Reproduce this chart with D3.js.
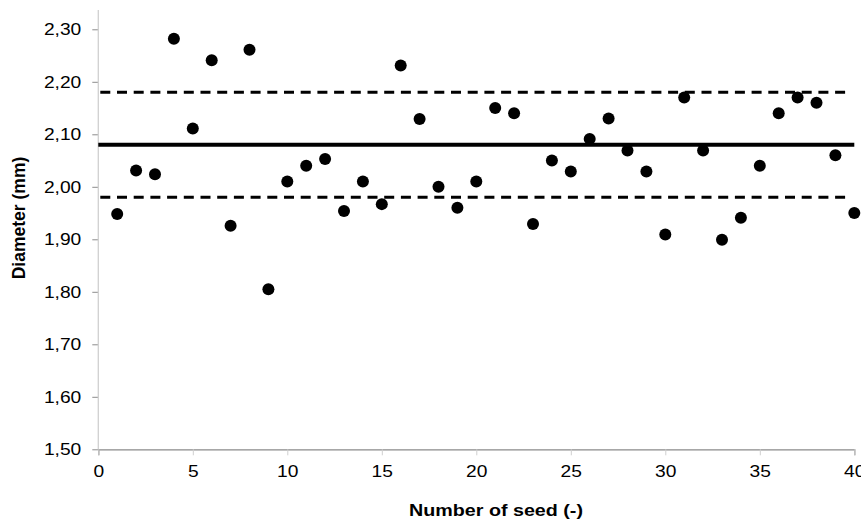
<!DOCTYPE html>
<html>
<head>
<meta charset="utf-8">
<script src="https://cdn.jsdelivr.net/npm/d3@7"></script>
<style>
  html, body { margin: 0; padding: 0; background: #fff; }
  svg { display: block; }
  text { font-family: "Liberation Sans", Arial, sans-serif; }
</style>
</head>
<body>
<svg id="chart" width="861" height="520"></svg>
<script>
// ---- data ----
const seedNumbers = d3.range(1, 41);
const diameters = [
  1.948, 2.031, 2.024, 2.282, 2.111, 2.241, 1.926, 2.261, 1.805, 2.010,
  2.040, 2.053, 1.954, 2.010, 1.967, 2.231, 2.129, 2.000, 1.960, 2.010,
  2.150, 2.140, 1.929, 2.050, 2.029, 2.091, 2.130, 2.069, 2.029, 1.909,
  2.170, 2.069, 1.899, 1.941, 2.040, 2.140, 2.170, 2.160, 2.060, 1.950
];
const meanValue = 2.08;
const lowerLimit = 1.98;
const upperLimit = 2.18;
const xTicks = [0, 5, 10, 15, 20, 25, 30, 35, 40];
const yTicks = [1.5, 1.6, 1.7, 1.8, 1.9, 2.0, 2.1, 2.2, 2.3];
const xTitle = "Number of seed (-)";
const yTitle = "Diameter (mm)";

// ---- layout ----
const svg = d3.select("#chart");
const mLeft = 98.3, mRight = 854.3, mTop = 29.3, mBottom = 449.3;
const x = d3.scaleLinear().domain([0, 40]).range([mLeft, mRight]);
const y = d3.scaleLinear().domain([1.5, 2.3]).range([mBottom, mTop]);
const fmt = d => d3.format(".2f")(d).replace(".", ",");
const widen = (sel, k) => sel.each(function () {
  const len = this.getComputedTextLength();
  d3.select(this).attr("textLength", len * k).attr("lengthAdjust", "spacingAndGlyphs");
});

// y axis
const yAxis = svg.append("g").attr("transform", `translate(${mLeft},0)`)
  .call(d3.axisLeft(y).tickValues(yTicks).tickFormat(fmt).tickSize(6).tickPadding(11));
yAxis.select(".domain").remove();
yAxis.selectAll(".tick line").attr("stroke", "#8c8c8c");
yAxis.selectAll(".tick text").attr("font-size", 17).attr("fill", "#000")
  .attr("font-family", "Liberation Sans, Arial, sans-serif").call(widen, 1.13);
svg.append("line").attr("x1", mLeft).attr("x2", mLeft)
  .attr("y1", 10).attr("y2", mBottom).attr("stroke", "#d0d0d0").attr("stroke-width", 1.3);

// x axis
const xAxis = svg.append("g").attr("transform", `translate(0,${mBottom})`)
  .call(d3.axisBottom(x).tickValues(xTicks).tickFormat(d3.format("d")).tickSize(6).tickPadding(10));
xAxis.select(".domain").attr("stroke", "#8a8a8a").attr("stroke-width", 1.3);
xAxis.selectAll(".tick line").attr("stroke", "#cfcfcf");
xAxis.selectAll(".tick text").attr("font-size", 17).attr("fill", "#000")
  .attr("font-family", "Liberation Sans, Arial, sans-serif").call(widen, 1.13);

// reference lines
svg.append("line").attr("x1", x(0)).attr("x2", x(40))
  .attr("y1", y(meanValue)).attr("y2", y(meanValue))
  .attr("stroke", "#000").attr("stroke-width", 4);
[upperLimit, lowerLimit].forEach(v => {
  svg.append("line").attr("x1", x(0) + 2).attr("x2", x(39.65))
    .attr("y1", y(v)).attr("y2", y(v))
    .attr("stroke", "#000").attr("stroke-width", 3)
    .attr("stroke-dasharray", "10,6.7");
});

// points
svg.append("g").selectAll("circle")
  .data(seedNumbers.map((n, i) => ({ n, v: diameters[i] })))
  .join("circle")
  .attr("cx", d => x(d.n)).attr("cy", d => y(d.v))
  .attr("r", 6).attr("fill", "#000");

// titles
svg.append("text").attr("x", 496).attr("y", 516).attr("text-anchor", "middle")
  .attr("font-size", 17).attr("font-weight", "bold").attr("fill", "#000").text(xTitle)
  .attr("textLength", 174).attr("lengthAdjust", "spacingAndGlyphs");
svg.append("text").attr("transform", "translate(25,218) rotate(-90)").attr("text-anchor", "middle")
  .attr("font-size", 17.5).attr("font-weight", "bold").attr("fill", "#000").text(yTitle);
</script>
</body>
</html>
